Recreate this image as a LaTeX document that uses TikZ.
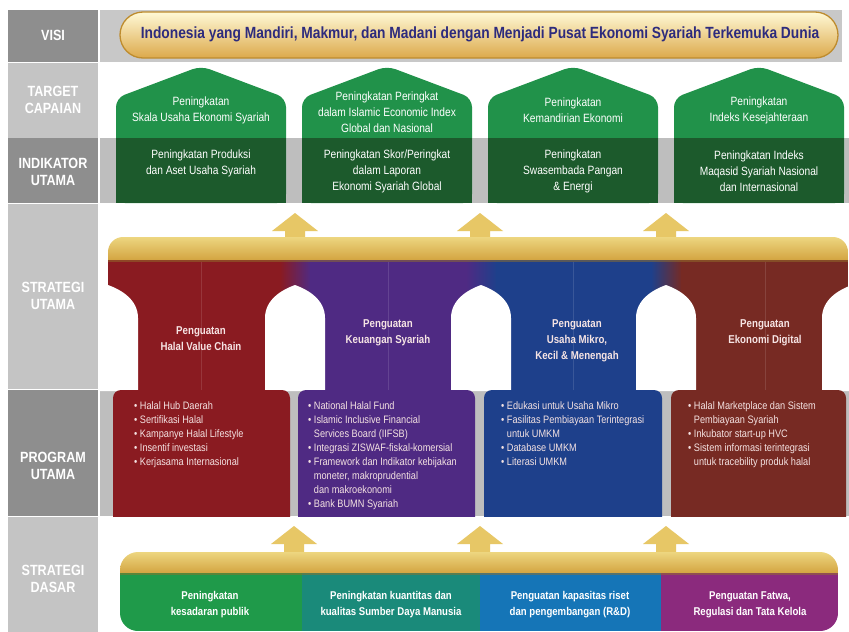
\documentclass[tikz,border=0pt]{standalone}
\usepackage{fontspec}
\setmainfont{Liberation Sans}
\newfontfamily\cf{Liberation Sans}[FakeStretch=0.85]
\definecolor{lbldark}{HTML}{8E8E8E}
\definecolor{lbllight}{HTML}{C4C4C4}
\definecolor{bandgray}{HTML}{BEBEBE}
\definecolor{visiband}{HTML}{C8C8C8}
\definecolor{hgreen}{HTML}{21924A}
\definecolor{hdark}{HTML}{1C5A2C}
\definecolor{pred}{HTML}{8A1B21}
\definecolor{ppur}{HTML}{4F2A83}
\definecolor{pblu}{HTML}{1E408B}
\definecolor{pbrn}{HTML}{772A23}
\definecolor{dgreen}{HTML}{1F9A4A}
\definecolor{dteal}{HTML}{1A8A7A}
\definecolor{dblue}{HTML}{1575B7}
\definecolor{dmag}{HTML}{8B2A7D}
\definecolor{goldtop}{HTML}{EDD680}
\definecolor{goldbot}{HTML}{D2A23E}
\definecolor{goldarr}{HTML}{E7C766}
\definecolor{visitext}{HTML}{2D2B7D}
\definecolor{pilltext}{HTML}{F6E4E4}
\definecolor{progtext}{HTML}{F4E2E2}
\definecolor{pillborder}{HTML}{BE8C2E}
\definecolor{pilltop}{HTML}{FFF9D6}
\definecolor{pillmid}{HTML}{F6E29A}
\definecolor{pillbot}{HTML}{DCA94B}
\begin{document}
\begin{tikzpicture}[x=1pt,y=-1pt,
  lbl/.style={font=\cf\bfseries\fontsize{14.8}{17}\selectfont, text=white, align=center, inner sep=0pt},
  htxt/.style={font=\cf\fontsize{12}{16}\selectfont, text=white, align=center, inner sep=0pt},
  ptxt/.style={font=\cf\bfseries\fontsize{11.4}{16}\selectfont, text=pilltext, align=center, inner sep=0pt},
  prog/.style={font=\cf\fontsize{10.8}{14}\selectfont, text=progtext, align=left, inner sep=0pt, anchor=north west},
  dtxt/.style={font=\cf\bfseries\fontsize{11.3}{16}\selectfont, text=white, align=center, inner sep=0pt},
  uparrow/.pic={\fill[goldarr] (0,0) -- (23,18) -- (10,18) -- (10,28) -- (-10,28) -- (-10,18) -- (-23,18) -- cycle;}
]
\useasboundingbox (0,0) rectangle (849,632);
\fill[white] (0,0) rectangle (849,632);

% ---------- left label column and bands ----------
\fill[lbldark]  (8,10)  rectangle (98,62);
\fill[visiband] (100,10) rectangle (842,62);
\fill[lbllight] (8,63)  rectangle (98,138);
\fill[lbldark]  (8,138) rectangle (98,203);
\fill[bandgray] (100,138) rectangle (849,203);
\fill[lbllight] (8,204) rectangle (98,389);
\fill[lbldark]  (8,390) rectangle (98,516);
\fill[bandgray] (100,390) rectangle (849,516);
\fill[lbllight] (8,517) rectangle (98,632);

\node[lbl] (lvisi) at (53,35) {VISI};
\node[lbl] (ltarget) at (53,100) {TARGET\\CAPAIAN};
\node[lbl] (lind) at (53,172) {INDIKATOR\\UTAMA};
\node[lbl] (lstrat) at (53,296) {STRATEGI\\UTAMA};
\node[lbl] (lprog) at (53,466) {PROGRAM\\UTAMA};
\node[lbl] (ldasar) at (53,579) {STRATEGI\\DASAR};

% ---------- visi pill ----------
\begin{scope}
  \clip[rounded corners=23pt] (120,12) rectangle (838,58);
  \shade[top color=pilltop, middle color=pillmid, bottom color=pillbot] (120,12) rectangle (838,58);
\end{scope}
\draw[pillborder, line width=1.3pt, rounded corners=23pt] (120,12) rectangle (838,58);
\node[font=\cf\bfseries\fontsize{16.2}{18}\selectfont, text=visitext, inner sep=0pt] (visi) at (480,34)
  {Indonesia yang Mandiri, Makmur, dan Madani dengan Menjadi Pusat Ekonomi Syariah Terkemuka Dunia};

% ---------- houses (target + indikator) ----------
\foreach \x in {116,302,488,674} {
  \fill[hgreen, rounded corners=9pt] (\x,203) -- (\x,98) -- (\x+85,66) -- (\x+170,98) -- (\x+170,203) -- cycle;
  \fill[hdark] (\x,138) rectangle (\x+170,203);
}
\node[htxt] (t1) at (201,110) {Peningkatan\\Skala Usaha Ekonomi Syariah};
\node[htxt] (t2) at (387,112) {Peningkatan Peringkat\\dalam Islamic Economic Index\\Global dan Nasional};
\node[htxt] (t3) at (573,110) {Peningkatan\\Kemandirian Ekonomi};
\node[htxt] (t4) at (759,110) {Peningkatan\\Indeks Kesejahteraan};
\node[htxt] (i1) at (201,163) {Peningkatan Produksi\\dan Aset Usaha Syariah};
\node[htxt] (i2) at (387,171) {Peningkatan Skor/Peringkat\\dalam Laporan\\Ekonomi Syariah Global};
\node[htxt] (i3) at (573,171) {Peningkatan\\Swasembada Pangan\\\& Energi};
\node[htxt] (i4) at (759,171) {Peningkatan Indeks\\Maqasid Syariah Nasional\\dan Internasional};

% ---------- strategi utama ----------
\pic at (295,213) {uparrow};
\pic at (480,213) {uparrow};
\pic at (666,213) {uparrow};
\begin{scope}
  \clip[rounded corners=15pt] (108,237) rectangle (848,300);
  \shade[top color=goldtop, bottom color=goldbot] (108,237) rectangle (848,261);
\end{scope}
\fill[pred] (108,260) rectangle (281,390);
\shade[left color=pred, right color=ppur] (280,260) rectangle (311,390);
\fill[ppur] (310,260) rectangle (467,390);
\shade[left color=ppur, right color=pblu] (466,260) rectangle (497,390);
\fill[pblu] (496,260) rectangle (652,390);
\shade[left color=pblu, right color=pbrn] (651,260) rectangle (682,390);
\fill[pbrn] (681,260) rectangle (848,390);
\foreach \c in {201,388,573,765} {
  \draw[white, opacity=0.12, line width=0.7pt] (\c,262) -- (\c,390);
}
\fill[goldbot!70!black, opacity=0.5] (108,260) rectangle (848,262);
% arches
\foreach \c in {295,481,666} {
  \fill[white] (\c-30,391) -- (\c-30,318) .. controls (\c-30,300) and (\c-14,290) .. (\c,285)
     .. controls (\c+14,290) and (\c+30,300) .. (\c+30,318) -- (\c+30,391) -- cycle;
}
\fill[white] (100,391) -- (100,285) -- (108,285) .. controls (122,290) and (138,300) .. (138,318) -- (138,391) -- cycle;
\fill[white] (822,391) -- (822,318) .. controls (822,300) and (838,290) .. (852,285) -- (852,391) -- cycle;

\node[ptxt] (s1) at (201,339) {Penguatan\\Halal Value Chain};
\node[ptxt] (s2) at (388,333) {Penguatan\\Keuangan Syariah};
\node[ptxt] (s3) at (577,341) {Penguatan\\Usaha Mikro,\\Kecil \& Menengah};
\node[ptxt] (s4) at (765,333) {Penguatan\\Ekonomi Digital};

% ---------- program utama ----------
\foreach \a/\b/\col in {113/290/pred, 298/475/ppur, 484/662/pblu, 671/846/pbrn} {
  \begin{scope}
    \clip (\a,390) rectangle (\b,516);
    \fill[\col, rounded corners=8pt] (\a,390) rectangle (\b,530);
  \end{scope}
}
\def\bl{\textbullet\ }
\def\ind{\hphantom{\textbullet\ }}
\node[prog] (p1) at (134,401) {\bl Halal Hub Daerah\\\bl Sertifikasi Halal\\\bl Kampanye Halal Lifestyle\\\bl Insentif investasi\\\bl Kerjasama Internasional};
\node[prog] (p2) at (308,401) {\bl National Halal Fund\\\bl Islamic Inclusive Financial\\\ind Services Board (IIFSB)\\\bl Integrasi ZISWAF-fiskal-komersial\\\bl Framework dan Indikator kebijakan\\\ind moneter, makroprudential\\\ind dan makroekonomi\\\bl Bank BUMN Syariah};
\node[prog] (p3) at (501,401) {\bl Edukasi untuk Usaha Mikro\\\bl Fasilitas Pembiayaan Terintegrasi\\\ind untuk UMKM\\\bl Database UMKM\\\bl Literasi UMKM};
\node[prog] (p4) at (688,401) {\bl Halal Marketplace dan Sistem\\\ind Pembiayaan Syariah\\\bl Inkubator start-up HVC\\\bl Sistem informasi terintegrasi\\\ind untuk tracebility produk halal};

% ---------- strategi dasar ----------
\pic at (294,526) {uparrow};
\pic at (480,526) {uparrow};
\pic at (666,526) {uparrow};
\begin{scope}
  \clip[rounded corners=18pt] (120,552) rectangle (838,631);
  \shade[top color=goldtop, bottom color=goldbot] (120,552) rectangle (838,574);
  \fill[dgreen] (120,573) rectangle (302,631);
  \fill[dteal]  (302,573) rectangle (480,631);
  \fill[dblue]  (480,573) rectangle (661,631);
  \fill[dmag]   (661,573) rectangle (838,631);
  \fill[goldbot!70!black, opacity=0.5] (120,573) rectangle (838,575);
\end{scope}
\node[dtxt] (d1) at (210,605) {Peningkatan\\kesadaran publik};
\node[dtxt] (d2) at (391,605) {Peningkatan kuantitas dan\\kualitas Sumber Daya Manusia};
\node[dtxt] (d3) at (570,605) {Penguatan kapasitas riset\\dan pengembangan (R\&D)};
\node[dtxt] (d4) at (750,605) {Penguatan Fatwa,\\Regulasi dan Tata Kelola};
\end{tikzpicture}
\end{document}
